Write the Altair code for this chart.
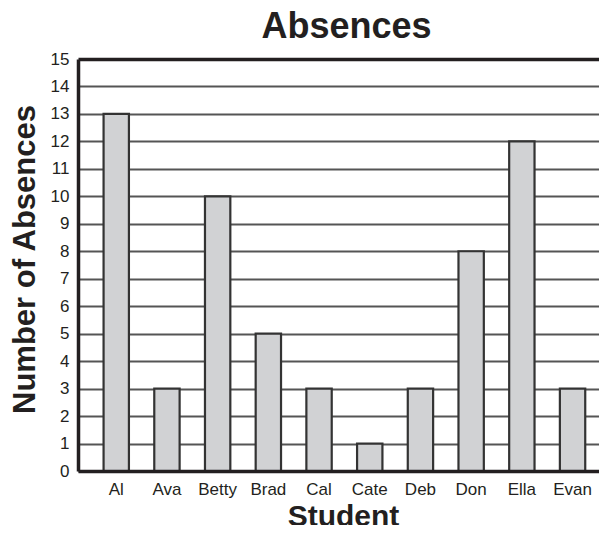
import altair as alt
import pandas as pd

students = ["Al", "Ava", "Betty", "Brad", "Cal", "Cate", "Deb", "Don", "Ella", "Evan"]
absences = [13, 3, 10, 5, 3, 1, 3, 8, 12, 3]
y_ticks = list(range(0, 16))

df = pd.DataFrame({"Student": students, "Absences": absences})

FONT = "Liberation Sans"

chart = alt.Chart(df).mark_bar(
    fill="#d1d2d4", stroke="#333333", strokeWidth=2.2
).encode(
    x=alt.X(
        "Student:N",
        sort=students,
        scale=alt.Scale(paddingInner=0.5, paddingOuter=0.388, align=0.65),
        axis=alt.Axis(
            title="Student",
            titleFont=FONT, titleFontSize=30, titleFontWeight="bold", titleColor="#231f20",
            titleX=265, titleY=54, titleBaseline="alphabetic", titleAlign="center",
            labelFont=FONT, labelFontSize=17, labelColor="#231f20", labelAngle=0,
            labelPadding=10, ticks=False,
            domainColor="#231f20", domainWidth=3.5, zindex=1,
        ),
    ),
    y=alt.Y(
        "Absences:Q",
        scale=alt.Scale(domain=[0, 15], nice=False),
        axis=alt.Axis(
            title="Number of Absences",
            titleFont=FONT, titleFontSize=31, titleFontWeight="bold", titleColor="#231f20",
            titleAngle=-90, titleX=-53, titleY=200, titleBaseline="middle", titleAlign="center",
            values=y_ticks, labelFont=FONT, labelFontSize=17, labelColor="#231f20",
            labelPadding=9, ticks=False,
            domainColor="#231f20", domainWidth=3.5,
            grid=True,
            gridColor={"condition": {"test": "datum.value == 15", "value": "#231f20"}, "value": "#555555"},
            gridWidth={"condition": {"test": "datum.value == 15", "value": 3.5}, "value": 2},
        ),
    ),
).properties(
    width=521,
    height=412,
    autosize=alt.AutoSizeParams(type="none"),
    padding={"left": 70, "top": 51, "right": 0, "bottom": 54},
    title=alt.TitleParams(
        "Absences", font=FONT, fontSize=36, fontWeight="bold", color="#231f20",
        anchor="middle", offset=4, dx=8,
    ),
).configure_view(stroke=None)

chart.save("out.html", embed_options={"renderer": "svg", "actions": False})
